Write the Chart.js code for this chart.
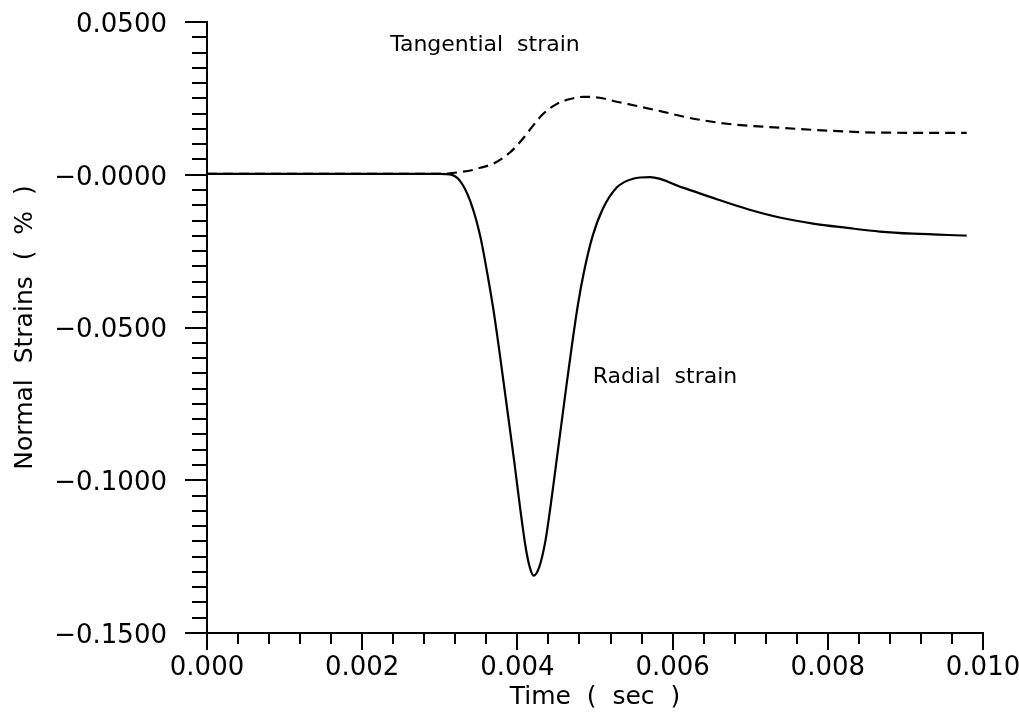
<!DOCTYPE html>
<html>
<head>
<meta charset="utf-8">
<script src="https://cdn.jsdelivr.net/npm/chart.js@4.4.1/dist/chart.umd.min.js"></script>
<style>
  html, body { margin: 0; padding: 0; background: #fff; }
  #wrap { width: 1019px; height: 713px; position: relative; }
</style>
</head>
<body>
<div id="wrap"><canvas id="strainChart"></canvas></div>
<script>
// Radial strain (solid line)
const radialTime = [0, 0.0012, 0.0025, 0.0030, 0.00313, 0.00326, 0.00339, 0.00352, 0.00361, 0.00369,
    0.00378, 0.00387, 0.00396, 0.00404, 0.00411, 0.00416, 0.00421, 0.00428, 0.00436, 0.00443,
    0.00450, 0.00457, 0.00464, 0.00471, 0.00478, 0.00486, 0.00497, 0.00510, 0.00528, 0.00549,
    0.00571, 0.00613, 0.00657, 0.00696, 0.00738, 0.00781, 0.00825, 0.00867, 0.00910, 0.00979];
const radialStrain = [0.0003, 0.0003, 0.0003, 0.0003, 0.0001, -0.0020, -0.0085, -0.0200, -0.0320, -0.0440,
    -0.0600, -0.0770, -0.0940, -0.1100, -0.1225, -0.1285, -0.1312, -0.1285, -0.1200, -0.1080,
    -0.0945, -0.0810, -0.0675, -0.0545, -0.0425, -0.0315, -0.0200, -0.0112, -0.0042, -0.0013,
    -0.0008, -0.0042, -0.0080, -0.0112, -0.0140, -0.0160, -0.0174, -0.0186, -0.0193, -0.0199];

// Tangential strain (dashed line)
const tangentialTime = [0, 0.0012, 0.0025, 0.0030, 0.00313, 0.00343, 0.00352, 0.00369, 0.00390, 0.00407,
    0.00420, 0.00433, 0.00451, 0.00468, 0.00485, 0.00506, 0.00528, 0.00554, 0.00588, 0.00622,
    0.00670, 0.00738, 0.00803, 0.00867, 0.00979];
const tangentialStrain = [0.0003, 0.0003, 0.0003, 0.0003, 0.0005, 0.0016, 0.0023, 0.0036, 0.0072, 0.0118,
    0.0160, 0.0199, 0.0232, 0.0248, 0.0255, 0.0252, 0.0239, 0.0225, 0.0206, 0.0186,
    0.0167, 0.0154, 0.0144, 0.0138, 0.0137];

// axis ticks
const xMajorTicks = [0, 0.002, 0.004, 0.006, 0.008, 0.010];
const yMajorTicks = [0.05, 0, -0.05, -0.10, -0.15];

const FONT = "'DejaVu Sans', sans-serif";

function isMajor(value, list) {
    return list.some(m => Math.abs(m - value) < 1e-9);
}

// tick marks: long at labelled values, short in between
const tickMarks = {
    id: 'tickMarks',
    afterDatasetsDraw(chart) {
        const ctx = chart.ctx;
        const x = chart.scales.x;
        const y = chart.scales.y;
        ctx.save();
        ctx.strokeStyle = '#000';
        ctx.lineWidth = 2;
        ctx.beginPath();
        x.ticks.forEach(t => {
            const px = Math.round(x.getPixelForValue(t.value));
            ctx.moveTo(px, x.top);
            ctx.lineTo(px, x.top + (isMajor(t.value, xMajorTicks) ? 17 : 11));
        });
        y.ticks.forEach(t => {
            const py = Math.round(y.getPixelForValue(t.value));
            ctx.moveTo(y.right, py);
            ctx.lineTo(y.right - (isMajor(t.value, yMajorTicks) ? 22 : 15), py);
        });
        ctx.stroke();
        ctx.restore();
    }
};

// curve labels, placed in data coordinates
const curveLabels = {
    id: 'curveLabels',
    afterDatasetsDraw(chart) {
        const ctx = chart.ctx;
        const x = chart.scales.x;
        const y = chart.scales.y;
        ctx.save();
        ctx.fillStyle = '#000';
        ctx.font = '22px ' + FONT;
        ctx.textAlign = 'left';
        ctx.textBaseline = 'middle';
        ctx.fillText('Tangential  strain', x.getPixelForValue(0.00236), y.getPixelForValue(0.0425));
        ctx.fillText('Radial  strain', x.getPixelForValue(0.00497), y.getPixelForValue(-0.0663));
        ctx.restore();
    }
};

const strainCtx = document.getElementById('strainChart').getContext('2d');
const strainChart = new Chart(strainCtx, {
    type: 'line',
    data: {
        datasets: [{
            label: 'Radial strain',
            data: radialTime.map((t, i) => ({ x: t, y: radialStrain[i] })),
            borderColor: '#000',
            borderWidth: 2.2,
            pointRadius: 0,
            cubicInterpolationMode: 'monotone',
            fill: false
        }, {
            label: 'Tangential strain',
            data: tangentialTime.map((t, i) => ({ x: t, y: tangentialStrain[i] })),
            borderColor: '#000',
            borderWidth: 2.2,
            borderDash: [10, 6],
            pointRadius: 0,
            cubicInterpolationMode: 'monotone',
            fill: false
        }]
    },
    options: {
        responsive: true,
        maintainAspectRatio: false,
        animation: false,
        layout: {
            padding: { top: 22, right: 36, left: 0, bottom: 0 }
        },
        plugins: {
            legend: { display: false },
            tooltip: { enabled: false }
        },
        scales: {
            x: {
                type: 'linear',
                min: 0,
                max: 0.010,
                afterFit: function (scale) {
                    scale.height = 80;
                    scale.paddingLeft = 0;
                    scale.paddingRight = 0;
                },
                grid: { drawOnChartArea: false, drawTicks: false },
                border: { display: true, color: '#000', width: 2 },
                ticks: {
                    stepSize: 0.0004,
                    autoSkip: false,
                    maxRotation: 0,
                    padding: 20,
                    color: '#000',
                    font: { family: FONT, size: 26 },
                    callback: function (value) {
                        return isMajor(value, xMajorTicks) ? value.toFixed(3) : '';
                    }
                },
                title: {
                    display: true,
                    text: 'Time  (  sec  )',
                    color: '#000',
                    font: { family: FONT, size: 25 },
                    padding: { top: 0, bottom: 1 }
                }
            },
            y: {
                min: -0.15,
                max: 0.05,
                afterFit: function (scale) {
                    scale.width = 207;
                    scale.paddingTop = 0;
                    scale.paddingBottom = 0;
                },
                grid: { drawOnChartArea: false, drawTicks: false },
                border: { display: true, color: '#000', width: 2 },
                ticks: {
                    stepSize: 0.005,
                    autoSkip: false,
                    padding: 40,
                    labelOffset: 3,
                    color: '#000',
                    font: { family: FONT, size: 26 },
                    callback: function (value) {
                        if (!isMajor(value, yMajorTicks)) return '';
                        if (Math.abs(value) < 1e-9) return '\u22120.0000';
                        return (value < 0 ? '\u2212' : '') + Math.abs(value).toFixed(4);
                    }
                },
                title: {
                    display: true,
                    text: 'Normal  Strains  (  %  )',
                    color: '#000',
                    font: { family: FONT, size: 25 },
                    padding: { top: 10, bottom: 0 }
                }
            }
        }
    },
    plugins: [tickMarks, curveLabels]
});
</script>
</body>
</html>
